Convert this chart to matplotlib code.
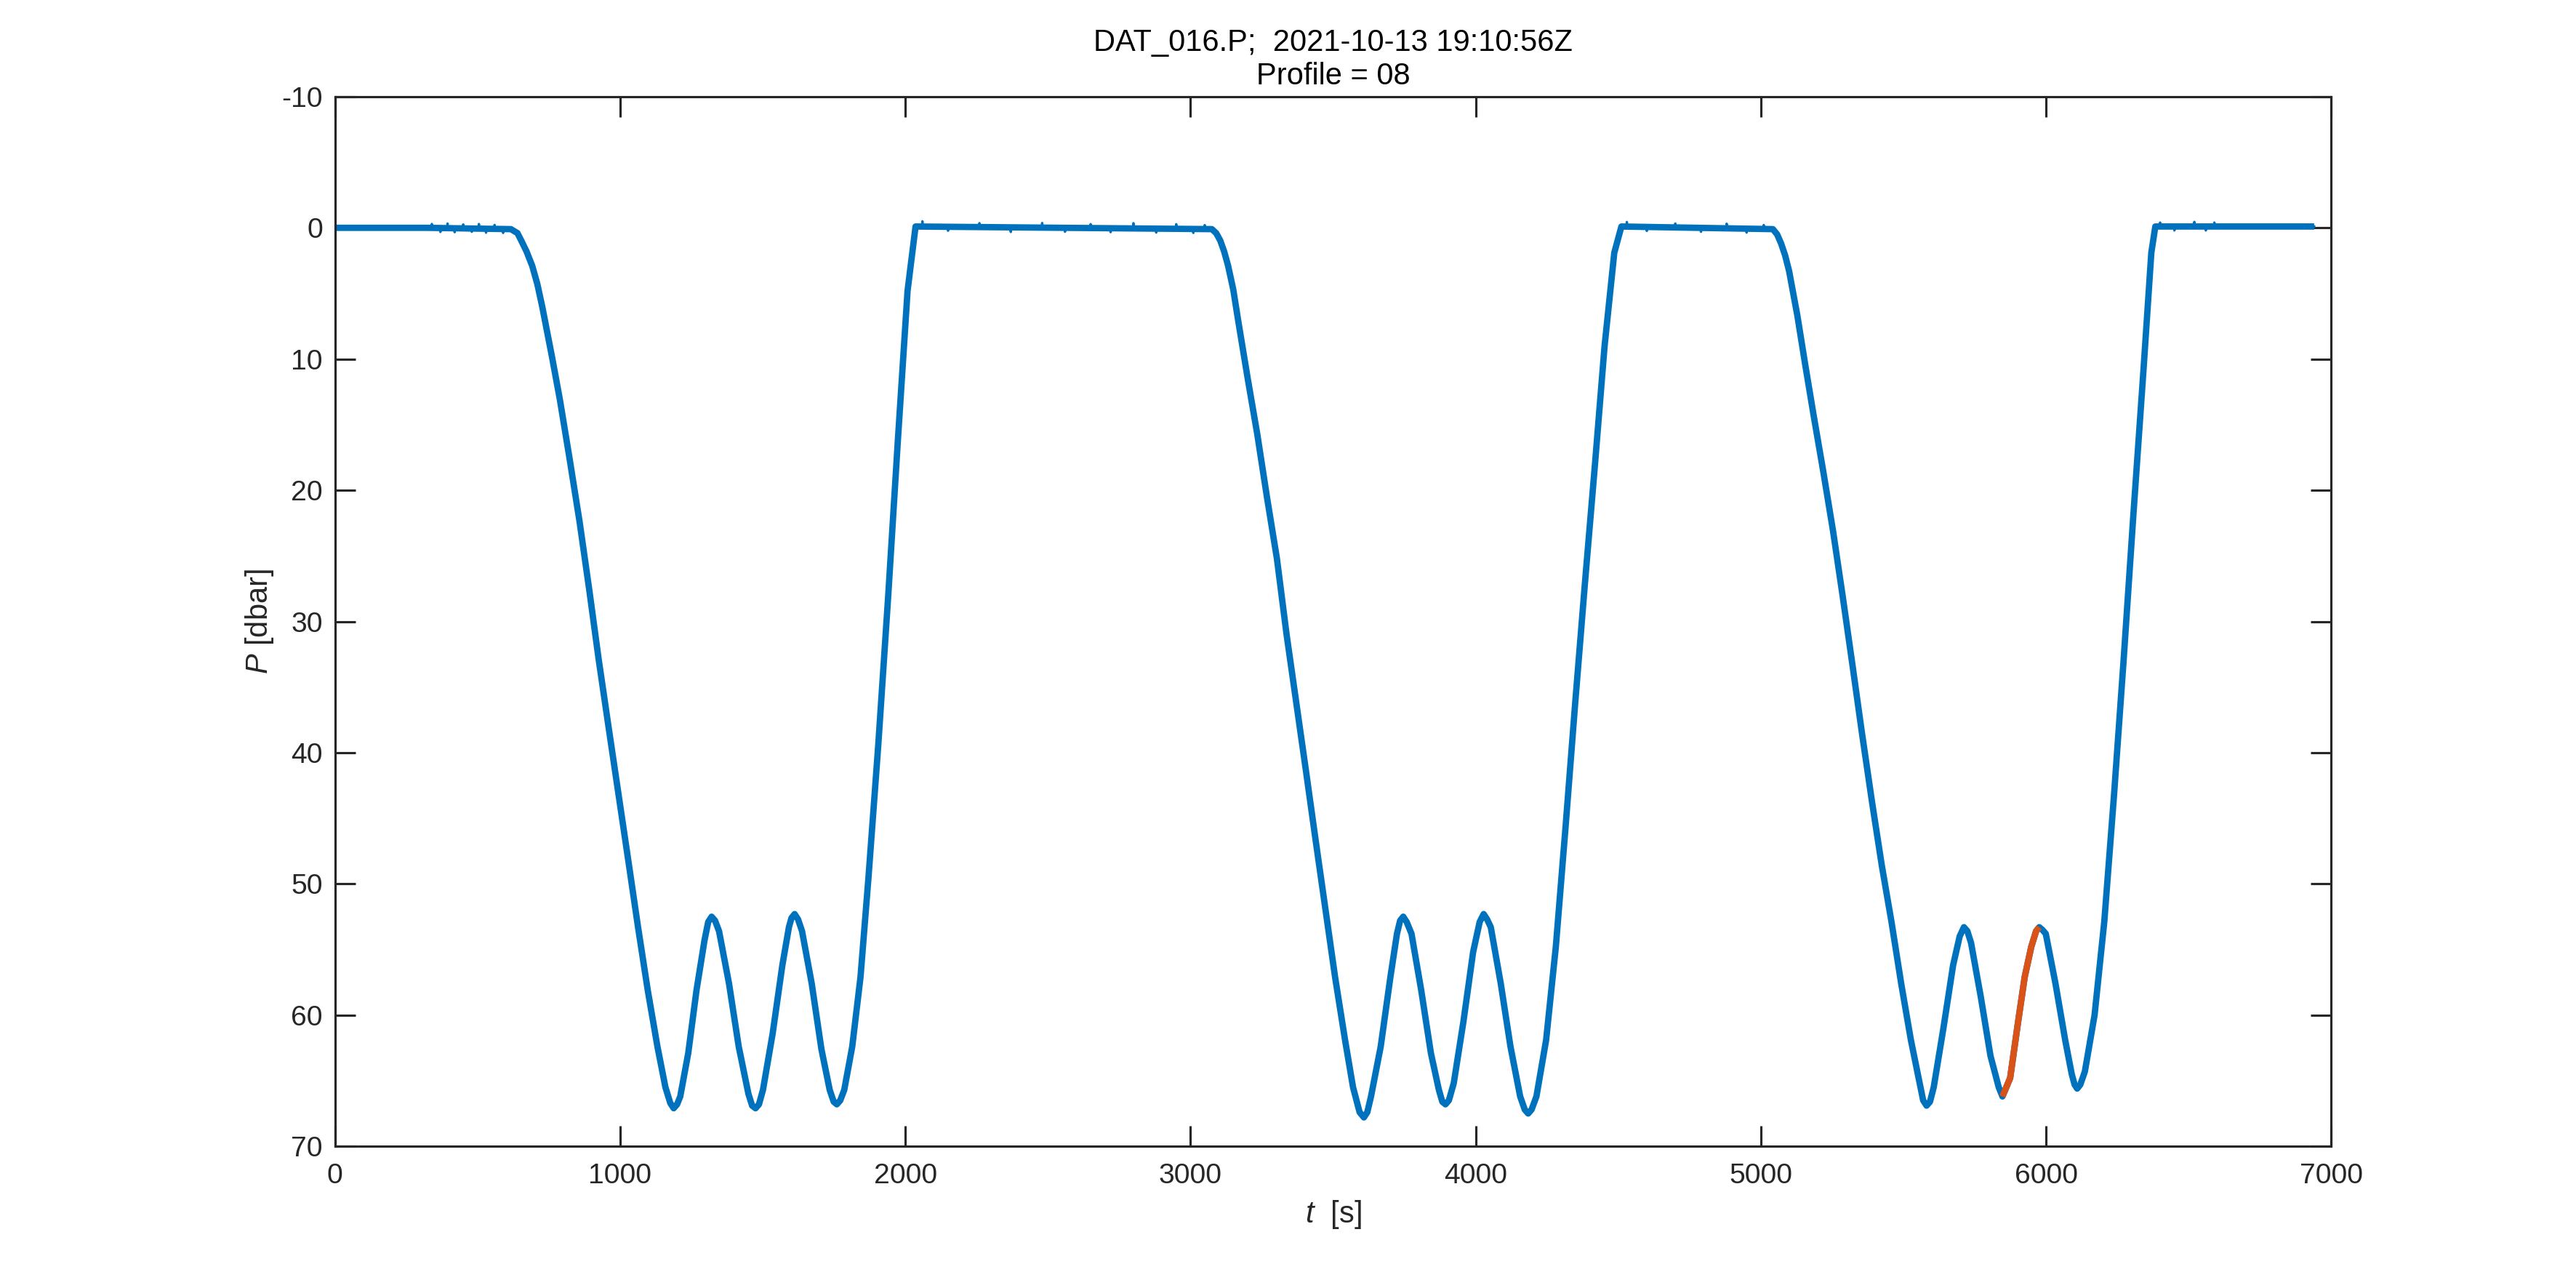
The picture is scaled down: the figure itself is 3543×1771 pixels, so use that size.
import numpy as np
import matplotlib
matplotlib.use('Agg')
import matplotlib.pyplot as plt

plt.rcParams['font.family'] = ['Liberation Sans', 'DejaVu Sans']
plt.rcParams['mathtext.fontset'] = 'custom'
plt.rcParams['mathtext.rm'] = 'Liberation Sans'
plt.rcParams['mathtext.it'] = 'Liberation Sans:italic'
plt.rcParams['axes.unicode_minus'] = False

# pressure trace: time [s], pressure [dbar]
t_trace = [
    0, 320, 617,
    640, 653, 672, 692, 710, 727, 761, 789, 823, 858, 892, 925, 960, 994, 1028, 1063, 1097, 1131, 1159,
    1176, 1188, 1200,
    1211, 1239, 1268, 1296, 1309, 1321, 1333, 1347, 1382, 1416, 1450, 1463, 1475, 1487, 1501, 1535, 1569, 1592,
    1601, 1612, 1624,
    1638, 1672, 1706, 1735, 1749, 1760, 1772, 1786, 1814, 1843, 1871, 1905, 1940, 1974, 2008, 2036,
    3075,
    3090, 3104, 3118, 3132, 3150, 3166, 3200, 3234, 3268, 3303, 3337, 3371, 3405, 3439, 3473, 3507, 3542, 3570,
    3593, 3608, 3620,
    3633, 3667, 3701, 3724, 3735, 3746, 3758, 3775, 3809, 3843, 3871, 3883, 3894, 3906, 3923, 3957, 3991, 4014,
    4028, 4040,
    4053, 4088, 4122, 4156, 4172, 4184, 4196, 4213, 4247, 4281, 4315, 4349, 4383, 4418, 4452, 4486, 4511,
    5042,
    5057, 5071, 5085, 5099, 5128, 5156, 5185, 5219, 5253, 5287, 5321, 5355, 5390, 5424, 5458, 5492, 5526, 5555,
    5569, 5581, 5593,
    5606, 5640, 5674, 5697, 5712, 5724, 5737, 5771, 5805, 5834, 5847,
    5874, 5902, 5925, 5948, 5965, 5976,
    5987, 5999, 6033, 6067, 6090, 6100, 6109, 6120, 6136, 6170, 6204, 6238, 6272, 6306, 6341, 6369, 6383,
    6615, 6940,
]
p_trace = [
    0.0, 0.0, 0.1,
    0.4, 0.95, 1.8, 2.9, 4.3, 6.0, 9.8, 13.1, 17.6, 22.4, 27.6, 32.9, 38.1, 43.1, 48.1, 53.3, 58.1, 62.4, 65.5,
    66.7, 67.1, 66.8,
    66.2, 62.9, 58.1, 54.3, 52.9, 52.5, 52.8, 53.6, 57.6, 62.4, 66.0, 66.9, 67.1, 66.8, 65.7, 61.4, 56.2, 53.3,
    52.6, 52.3, 52.7,
    53.6, 57.6, 62.6, 65.7, 66.6, 66.8, 66.5, 65.7, 62.4, 57.1, 49.5, 39.5, 28.1, 16.2, 4.8, -0.1,
    0.1,
    0.4, 0.95, 1.8, 2.9, 4.7, 6.9, 11.4, 15.7, 20.5, 25.2, 31.0, 36.2, 41.4, 46.7, 51.9, 57.1, 61.9, 65.5,
    67.4, 67.8, 67.4,
    66.2, 62.4, 57.1, 53.8, 52.8, 52.5, 52.9, 53.8, 58.1, 62.9, 65.7, 66.6, 66.8, 66.5, 65.2, 60.5, 55.2, 52.9,
    52.3, 52.7,
    53.3, 57.6, 62.4, 66.2, 67.2, 67.5, 67.2, 66.2, 61.9, 54.8, 45.7, 36.2, 27.1, 18.1, 9.0, 1.9, -0.1,
    0.1,
    0.5, 1.2, 2.1, 3.3, 6.7, 10.5, 14.3, 18.6, 23.1, 28.1, 33.3, 38.6, 43.8, 48.6, 52.9, 57.6, 61.9, 65.0,
    66.5, 66.9, 66.6,
    65.5, 61.0, 56.2, 54.0, 53.3, 53.6, 54.5, 58.6, 63.1, 65.5, 66.2,
    64.8, 60.5, 57.1, 54.8, 53.6, 53.3,
    53.5, 53.8, 57.6, 61.9, 64.5, 65.3, 65.6, 65.3, 64.3, 60.0, 52.9, 43.3, 32.9, 21.9, 11.0, 1.9, -0.1,
    -0.1, -0.1,
]

# highlighted up-cast segment (orange)
t_highlight = [5847, 5874, 5902, 5925, 5948, 5965, 5976]
p_highlight = [66.2, 64.8, 60.5, 57.1, 54.8, 53.6, 53.3]

# surface periods where only the thin noisy trace shows
surface_windows = [(320, 617), (2036, 3075), (4511, 5042), (6383, 6615)]

# spikes seen on the surface periods
t_spikes = [340, 370, 395, 420, 450, 480, 505, 530, 560, 590,
            2060, 2150, 2260, 2370, 2480, 2560, 2650, 2720, 2800, 2880, 2950, 3010, 3050,
            4530, 4600, 4700, 4790, 4880, 4950, 5010,
            6400, 6450, 6520, 6560, 6590]
p_spikes = [-0.3, 0.3, -0.35, 0.3, -0.3, 0.25, -0.35, 0.3, -0.3, 0.3,
            -0.4, 0.3, -0.3, 0.35, -0.35, 0.3, -0.3, 0.3, -0.4, 0.3, -0.35, 0.3, -0.3,
            -0.35, 0.3, -0.3, 0.3, -0.35, 0.3, -0.3,
            -0.3, 0.3, -0.35, 0.3, -0.3]

blue = '#0072BD'
orange = '#D95319'
ax_color = '#262626'

t_trace = np.array(t_trace, dtype=float)
p_trace = np.array(p_trace, dtype=float)

# thick trace: blank out the surface windows
p_thick = p_trace.copy()
for a, b in surface_windows:
    p_thick[(t_trace > a) & (t_trace < b)] = np.nan

# thin trace with spikes
t_thin = list(t_trace)
p_thin = list(p_trace)
for ts, ps in zip(t_spikes, p_spikes):
    base = np.interp(ts, t_trace, p_trace)
    t_thin += [ts - 1, ts, ts + 1]
    p_thin += [base, base + ps, base]
order = np.argsort(t_thin, kind='stable')
t_thin = np.array(t_thin)[order]
p_thin = np.array(p_thin)[order]

fig = plt.figure(figsize=(3543 / 300, 1771 / 300), dpi=300)
ax = fig.add_axes([0.13, 0.11, 0.775, 0.815])

ax.plot(t_thin, p_thin, color=blue, lw=0.8)
ax.plot(t_trace, p_thick, color=blue, lw=2.1, solid_joinstyle='round', solid_capstyle='butt')
ax.plot(t_highlight, p_highlight, color=orange, lw=2.1, solid_joinstyle='round', solid_capstyle='butt')

ax.set_xlim(0, 7000)
ax.set_ylim(70, -10)
ax.set_xticks(np.arange(0, 7001, 1000))
ax.set_yticks(np.arange(-10, 71, 10))

ax.tick_params(direction='in', length=6.7, width=0.75, colors=ax_color,
               labelsize=9.4, top=True, right=True)
ax.tick_params(axis='x', pad=5.5)
ax.tick_params(axis='y', pad=4)
for s in ax.spines.values():
    s.set_linewidth(0.75)
    s.set_color(ax_color)

ax.set_xlabel('$t$  [s]', fontsize=10, color=ax_color, labelpad=3)
ax.set_ylabel('$P$ [dbar]', fontsize=10, color=ax_color, labelpad=2)
ax.set_title('DAT_016.P;  2021-10-13 19:10:56Z\nProfile = 08', fontsize=10,
             color='black', pad=4, linespacing=1.2)

fig.savefig('out.png', dpi=300)
